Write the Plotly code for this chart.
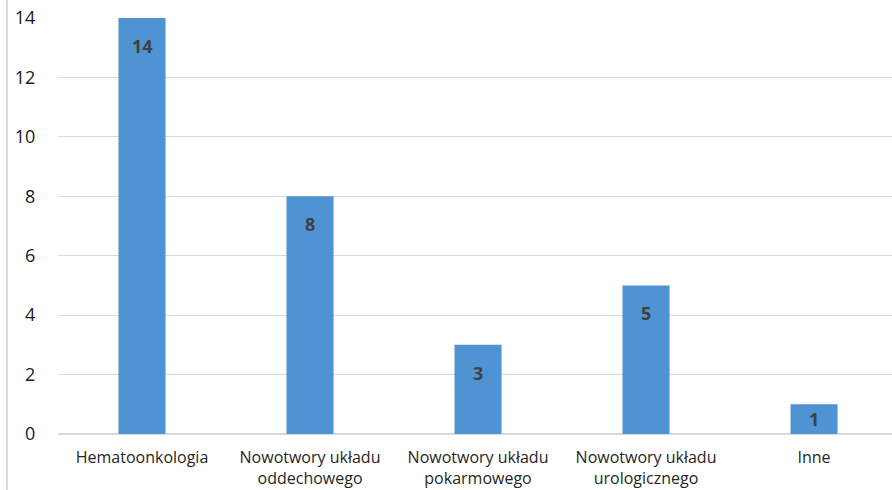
import plotly.graph_objects as go

categories = ["Hematoonkologia", "Nowotwory układu<br>oddechowego", "Nowotwory układu<br>pokarmowego",
              "Nowotwory układu<br>urologicznego", "Inne"]
values = [14, 8, 3, 5, 1]
y_ticks = [0, 2, 4, 6, 8, 10, 12, 14]

BAR = "#5093d3"
TXT = "#262626"
FONT = "Open Sans"

fig = go.Figure()
fig.add_trace(go.Bar(x=list(range(len(categories))), y=values, marker=dict(color=BAR, line=dict(width=0)),
                     hoverinfo="skip"))

# data labels inside bar tops
for i, v in enumerate(values):
    px_per_unit = 416 / 14
    h = v * px_per_unit
    if h > 2 * 28:
        fig.add_annotation(x=i, y=v, yref="y", xref="x", text=f"<b>{v}</b>", showarrow=False,
                           yanchor="middle", yshift=-28, font=dict(family=FONT, size=18, color="#404040"))
    else:
        fig.add_annotation(x=i, y=v / 2, yref="y", xref="x", text=f"<b>{v}</b>", showarrow=False,
                           yanchor="middle", font=dict(family=FONT, size=18, color="#404040"))

fig.add_shape(type="line", xref="paper", yref="paper", x0=-0.0612, x1=-0.0612, y0=-0.2, y1=1.1,
              line=dict(color="#d0d0d0", width=1.5))

fig.update_layout(
    width=892, height=490,
    margin=dict(l=58, r=0, t=18, b=56),
    plot_bgcolor="white", paper_bgcolor="white",
    showlegend=False,
    bargap=0.72,
    font=dict(family=FONT, color=TXT),
    xaxis=dict(range=[-0.5, 4.464], tickmode="array", tickvals=list(range(len(categories))),
               ticktext=categories, showgrid=False, zeroline=False, showline=False,
               ticks="outside", ticklen=9, tickcolor="rgba(0,0,0,0)",
               tickfont=dict(family=FONT, size=16, color=TXT), tickangle=0),
    yaxis=dict(range=[0, 14], tickmode="array", tickvals=y_ticks, showgrid=True,
               gridcolor="#d9d9d9", gridwidth=1, zeroline=True, zerolinecolor="#d9d9d9", zerolinewidth=1.5,
               ticks="outside", ticklen=18, tickcolor="rgba(0,0,0,0)",
               tickfont=dict(family=FONT, size=18, color="#1a1a1a")),
)

fig.write_html("out.html")
